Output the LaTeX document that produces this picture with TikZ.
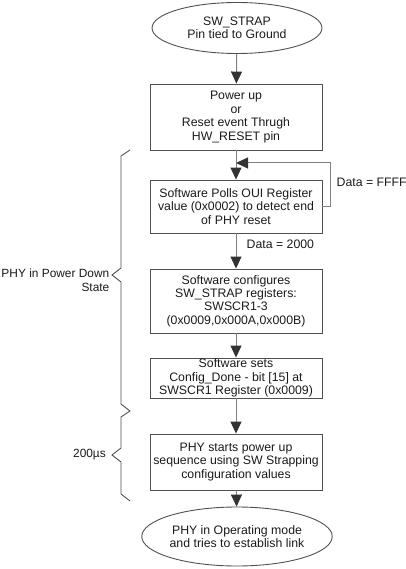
\documentclass[tikz,border=0pt]{standalone}
\usepackage{fontspec}
\setmainfont{Liberation Sans}
\usetikzlibrary{arrows.meta,shapes.geometric}
\definecolor{boxline}{HTML}{505050}
\definecolor{connline}{HTML}{808080}
\definecolor{txt}{HTML}{1A1A1A}
\begin{document}
\begin{tikzpicture}[x=1pt,y=-1pt,
  every node/.style={font=\fontsize{12.3}{13.4}\selectfont, text=txt, inner sep=0pt},
  stepbox/.style={draw=boxline, line width=0.9pt, minimum width=172pt, align=center},
  endoval/.style={draw=boxline, line width=0.9pt, ellipse, align=center},
  conn/.style={draw=connline, line width=1pt, -{Triangle[length=12pt,width=11pt,color=black!80]}},
  bracel/.style={draw=boxline, line width=0.9pt},
  lbl/.style={},
  sidelbl/.style={font=\fontsize{11.9}{14}\selectfont}]
\useasboundingbox (0,0) rectangle (406,569);
\node[endoval, minimum width=170pt, minimum height=51pt] (top) at (237,28) {SW\_STRAP\\Pin tied to Ground};
\node[stepbox, minimum height=66pt] (b1) at (236,117) {Power up\\or\\Reset event Thrugh\\HW\_RESET pin};
\node[stepbox, minimum height=53pt] (b2) at (236,206.5) {Software Polls OUI Register\\value (0x0002) to detect end\\of PHY reset};
\node[stepbox, minimum height=64pt] (b3) at (236,301) {Software configures\\SW\_STRAP registers:\\SWSCR1-3\\(0x0009,0x000A,0x000B)};
\node[stepbox, minimum height=40pt] (b4) at (236,378) {Software sets\\Config\_Done - bit [15] at\\SWSCR1 Register (0x0009)};
\node[stepbox, minimum height=56pt] (b5) at (236,462) {PHY starts power up\\sequence using SW Strapping\\configuration values};
\node[endoval, minimum width=161pt, minimum height=59pt] (bot) at (237,536.5) {PHY in Operating mode\\and tries to establish link};
\coordinate (fb) at (236,163);
\draw[conn] (top) -- (b1);
\draw[conn] (b1) -- (b2);
\draw[conn] (b2.east) -- ++(8,0) |- (fb);
\draw[conn] (b2) -- (b3);
\draw[conn] (b3) -- (b4);
\draw[conn] (b4) -- (b5);
\draw[conn] (b5) -- (bot);
\node[lbl, anchor=west] (d2000) at (246.5,244) {Data = 2000};
\node[lbl, anchor=west] (dffff) at (336.5,182) {Data = FFFF};
\draw[bracel] (130,150) -- (121,156) -- (121,268) -- (112,275) -- (121,282) -- (121,404) -- (130,411) -- (121,417) -- (121,448) -- (112,455) -- (121,462) -- (121,494) -- (130,501);
\node[lbl, sidelbl, anchor=east, align=right] (pd) at (109.5,280.5) {PHY in Power Down\\State};
\node[lbl, sidelbl, anchor=east] (us) at (106,455) {200µs};
\end{tikzpicture}
\end{document}
